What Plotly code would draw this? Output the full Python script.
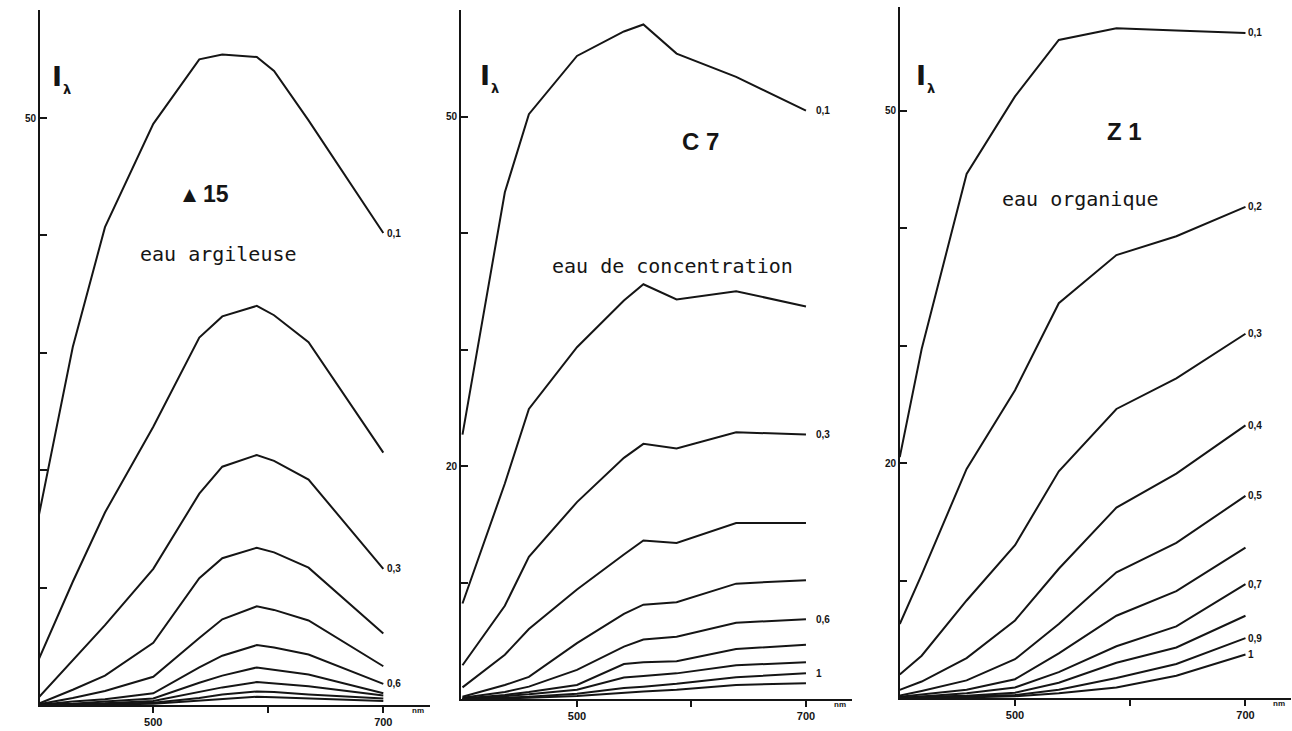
import plotly.graph_objects as go

W, H = 1292, 731

# ---------------- data: spectral intensity I(lambda) for successive depths ----------------
# Panel 1 : eau argileuse (station Δ15)
wl_argileuse = [400, 430, 458, 500, 540, 560, 590, 605, 635, 700]
I_argileuse = [
    [15.9, 30.5, 40.7, 49.5, 55.0, 55.4, 55.2, 54.0, 49.8, 40.2],
    [3.8, 10.5, 16.4, 23.7, 31.3, 33.1, 34.0, 33.2, 30.9, 21.5],
    [0.6, 3.8, 6.8, 11.6, 18.0, 20.3, 21.3, 20.8, 19.2, 11.6],
    [0.1, 1.3, 2.5, 5.3, 10.8, 12.5, 13.4, 13.0, 11.7, 6.1],
    [0.05, 0.6, 1.2, 2.4, 5.7, 7.3, 8.4, 8.1, 7.2, 3.3],
    [0.0, 0.3, 0.5, 1.0, 3.2, 4.2, 5.1, 4.9, 4.3, 1.8],
    [0.0, 0.1, 0.3, 0.55, 1.9, 2.5, 3.2, 3.0, 2.6, 1.0],
    [0.0, 0.05, 0.15, 0.35, 1.1, 1.5, 1.95, 1.85, 1.6, 0.8],
    [0.0, 0.03, 0.1, 0.2, 0.6, 0.9, 1.15, 1.1, 0.9, 0.55],
    [0.0, 0.0, 0.05, 0.1, 0.35, 0.5, 0.7, 0.65, 0.55, 0.35],
]
labels_argileuse = ["0,1", "", "0,3", "", "", "0,6", "", "", "", ""]

# Panel 2 : eau de concentration (station C7)
wl_concentration = [400, 437, 458, 500, 541, 558, 587, 639, 700]
I_concentration = [
    [22.7, 43.5, 50.2, 55.2, 57.3, 57.9, 55.4, 53.4, 50.5],
    [8.2, 18.5, 24.9, 30.2, 34.2, 35.6, 34.3, 35.0, 33.7],
    [2.9, 8.0, 12.2, 16.9, 20.7, 21.9, 21.5, 22.9, 22.7],
    [1.0, 3.8, 6.0, 9.4, 12.4, 13.6, 13.4, 15.1, 15.1],
    [0.2, 1.2, 1.9, 4.8, 7.3, 8.1, 8.3, 9.9, 10.2],
    [0.1, 0.6, 1.06, 2.5, 4.5, 5.1, 5.35, 6.55, 6.84],
    [0.05, 0.35, 0.6, 1.2, 3.0, 3.15, 3.25, 4.3, 4.65],
    [0.0, 0.25, 0.4, 0.8, 1.85, 1.97, 2.2, 2.9, 3.15],
    [0.0, 0.1, 0.2, 0.45, 0.95, 1.06, 1.3, 1.86, 2.2],
    [0.0, 0.05, 0.1, 0.25, 0.55, 0.65, 0.8, 1.2, 1.35],
]
labels_concentration = ["0,1", "", "0,3", "", "", "0,6", "", "", "1", ""]

# Panel 3 : eau organique (station Z1)
wl_organique = [400, 419, 458, 500, 538, 588, 640, 700]
I_organique = [
    [20.5, 29.7, 44.6, 51.2, 56.0, 57.0, 56.8, 56.6],
    [6.3, 10.5, 19.5, 26.2, 33.6, 37.7, 39.3, 41.8],
    [2.0, 3.6, 8.3, 13.0, 19.3, 24.6, 27.2, 31.0],
    [0.7, 1.4, 3.4, 6.6, 11.0, 16.2, 19.1, 23.2],
    [0.2, 0.6, 1.5, 3.3, 6.3, 10.7, 13.2, 17.2],
    [0.1, 0.3, 0.7, 1.6, 3.8, 7.0, 9.1, 12.8],
    [0.0, 0.15, 0.4, 0.9, 2.2, 4.4, 6.1, 9.7],
    [0.0, 0.1, 0.2, 0.45, 1.3, 3.0, 4.3, 7.0],
    [0.0, 0.05, 0.1, 0.25, 0.7, 1.7, 2.9, 5.1],
    [0.0, 0.0, 0.05, 0.15, 0.4, 0.9, 1.9, 3.7],
]
labels_organique = ["0,1", "0,2", "0,3", "0,4", "0,5", "", "0,7", "", "0,9", "1"]

x_tickvals = [500, 600, 700]
x_ticktext = ["500", "", "700"]
y_tickvals = [10, 20, 30, 40, 50]
y_ticktext_first = ["", "", "", "", "50"]
y_ticktext_other = ["", "20", "", "", "50"]

# ---------------- layout helpers (pixel -> paper) ----------------
def fx(px):
    return px / W

def fy(py):
    return 1 - py / H

INK = "#151515"
MONO = "DejaVu Sans Mono"
SANS = "Liberation Sans"

panels = [
    dict(I=I_argileuse, wl=wl_argileuse, lab=labels_argileuse, ax="",
         xpx=(40, 430), xr=(401.5, 740.6), ypx=(705, 10), ytop=695 / 11.74,
         yticks=y_ticktext_first, shift=2),
    dict(I=I_concentration, wl=wl_concentration, lab=labels_concentration, ax="2",
         xpx=(461, 852), xr=(398.7, 740.2), ypx=(699, 10), ytop=689 / 11.65,
         yticks=y_ticktext_other, shift=8),
    dict(I=I_organique, wl=wl_organique, lab=labels_organique, ax="3",
         xpx=(900, 1291), xr=(400.2, 739.5), ypx=(698, 7), ytop=691 / 11.75,
         yticks=y_ticktext_other, shift=1),
]

fig = go.Figure()
annotations = []
layout_axes = {}

for p in panels:
    xa = "x" + p["ax"]
    ya = "y" + p["ax"]
    for series, lab in zip(p["I"], p["lab"]):
        fig.add_trace(go.Scatter(
            x=p["wl"], y=series, mode="lines",
            line=dict(color=INK, width=2),
            xaxis=xa, yaxis=ya, hoverinfo="skip", showlegend=False,
        ))
        if lab:
            annotations.append(dict(
                x=p["wl"][-1], y=series[-1], xref=xa, yref=ya,
                text=lab, showarrow=False, xanchor="left", yanchor="middle",
                xshift=p["shift"],
                font=dict(family=SANS, size=10, color=INK, weight="bold"),
            ))
    layout_axes["xaxis" + p["ax"]] = dict(
        domain=[fx(p["xpx"][0]), fx(p["xpx"][1])], range=list(p["xr"]),
        anchor=ya, showline=True, linecolor=INK, linewidth=2,
        ticks="outside", ticklen=6, tickwidth=2, tickcolor=INK,
        tickvals=x_tickvals, ticktext=x_ticktext,
        tickfont=dict(family=SANS, size=11, color=INK, weight="bold"),
        showgrid=False, zeroline=False, fixedrange=True,
    )
    layout_axes["yaxis" + p["ax"]] = dict(
        domain=[fy(p["ypx"][0]), fy(p["ypx"][1])], range=[0, p["ytop"]],
        anchor=xa, showline=True, linecolor=INK, linewidth=2,
        ticks="inside", ticklen=7, tickwidth=2, tickcolor=INK,
        tickvals=y_tickvals, ticktext=p["yticks"],
        tickfont=dict(family=SANS, size=10, color=INK, weight="bold"),
        showgrid=False, zeroline=False, fixedrange=True,
    )
    # unit of the wavelength axis
    annotations.append(dict(
        x=fx(p["xpx"][1] - 12), y=fy(p["ypx"][0] + 5), xref="paper", yref="paper",
        text="nm", showarrow=False, xanchor="center", yanchor="middle",
        font=dict(family=SANS, size=8, color=INK, weight="bold"),
    ))


def text_at(px, py, txt, size, family=SANS, bold=False, anchor="center"):
    annotations.append(dict(
        x=fx(px), y=fy(py), xref="paper", yref="paper", text=txt,
        showarrow=False, xanchor=anchor, yanchor="middle",
        font=dict(family=family, size=size, color=INK,
                  weight="bold" if bold else "normal"),
    ))


# ordinate symbol I_lambda in each panel
for ix, iy in [(57, 76), (485, 75), (921, 75)]:
    text_at(ix, iy, "I", 27, family="DejaVu Sans", bold=True)
    text_at(ix + 10, iy + 13, "λ", 13, family="DejaVu Sans", bold=True)

# station names and water types
text_at(190, 194, "▲", 17, family="DejaVu Sans")
text_at(216, 194, "15", 23, bold=True)
text_at(218, 254, "eau argileuse", 20, family=MONO)
text_at(700, 141, "C 7", 24, bold=True)
text_at(672, 266, "eau de concentration", 20, family=MONO)
text_at(1124, 132, "Z 1", 24, bold=True)
text_at(1080, 199, "eau organique", 20, family=MONO)

fig.update_layout(
    width=W, height=H, margin=dict(l=0, r=0, t=0, b=0),
    paper_bgcolor="white", plot_bgcolor="white",
    showlegend=False, annotations=annotations, **layout_axes,
)

fig.write_html("out.html")
